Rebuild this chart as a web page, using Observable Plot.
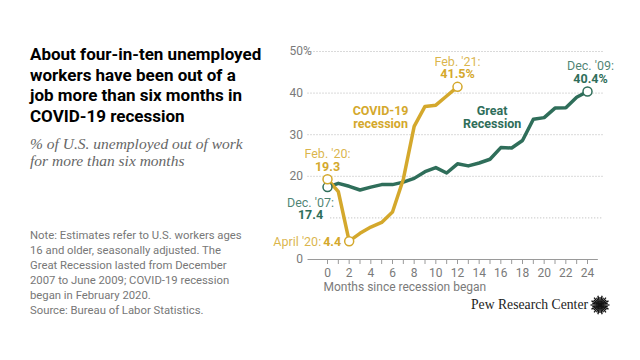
<!DOCTYPE html>
<html>
<head>
<meta charset="utf-8">
<script src="https://cdn.jsdelivr.net/npm/d3@7"></script>
<script src="https://cdn.jsdelivr.net/npm/@observablehq/plot@0.6"></script>
<style>
  html, body { margin: 0; padding: 0; background: #fff; }
  #page { position: relative; width: 640px; height: 360px; overflow: hidden; font-family: Roboto, "Liberation Sans", sans-serif; }
  #title { position: absolute; left: 30px; top: 44px; font-size: 17px; font-weight: 700; line-height: 20.5px; color: #000; }
  #subtitle { position: absolute; left: 30px; top: 136px; font-family: "Liberation Serif", serif; font-style: italic; font-size: 15.5px; line-height: 16.7px; color: #666; }
  #note { position: absolute; left: 30px; top: 229px; font-size: 11.3px; line-height: 14.9px; color: #777; }
  #chart { position: absolute; left: 260px; top: 30px; }
  #logo { position: absolute; left: 471px; top: 297px; font-family: "Liberation Serif", serif; font-size: 13.7px; color: #222; white-space: nowrap; }
  #icon { position: absolute; left: 589px; top: 294px; }
</style>
</head>
<body>
<div id="page">
  <div id="title">About four-in-ten unemployed<br>workers have been out of a<br>job more than six months in<br>COVID-19 recession</div>
  <div id="subtitle">% of U.S. unemployed out of work<br>for more than six months</div>
  <div id="note">Note: Estimates refer to U.S. workers ages<br>16 and older, seasonally adjusted. The<br>Great Recession lasted from December<br>2007 to June 2009; COVID-19 recession<br>began in February 2020.<br>Source: Bureau of Labor Statistics.</div>
  <div id="chart"></div>
  <div id="logo">Pew Research Center</div>
  <svg id="icon" width="22" height="22"></svg>
</div>
<script>
// Data
const monthsGreat = [0,1,2,3,4,5,6,7,8,9,10,11,12,13,14,15,16,17,18,19,20,21,22,23,24];
const greatRecession = [17.4,18.3,17.6,16.7,17.4,18.0,18.0,18.6,19.5,21.1,22.1,20.8,23.0,22.5,23.2,24.1,26.9,26.8,28.6,33.7,34.1,36.4,36.5,39.0,40.4];
const monthsCovid = [0,1,2,3,4,5,6,7,8,9,10,11,12];
const covidRecession = [19.3,16.3,4.4,6.3,7.8,8.9,11.4,19.3,32.0,36.8,37.1,39.3,41.5];
const yTicks = [0,20,30,40,50];
const xTicks = [0,1,2,3,4,5,6,7,8,9,10,11,12,13,14,15,16,17,18,19,20,21,22,23,24];
const xTickLabels = [0,2,4,6,8,10,12,14,16,18,20,22,24];
const gridValues = [20,30,40,50];
const seriesLabels = ["COVID-19\nrecession", "Great\nRecession"];

const GOLD = "#d4a82c";
const GREEN = "#2f6e5a";
const GRAY = "#7a7a7a";

const great = monthsGreat.map((m, i) => ({m, v: greatRecession[i]}));
const covid = monthsCovid.map((m, i) => ({m, v: covidRecession[i]}));
const gStart = great[0], gEnd = great[great.length - 1];
const cStart = covid[0], cLow = covid[2], cEnd = covid[covid.length - 1];

const FS = 12.5;

const chart = Plot.plot({
  width: 360,
  height: 275,
  marginLeft: 47.5,
  marginRight: 16.75,
  marginTop: 21,
  marginBottom: 46,
  style: {fontFamily: "Roboto, 'Liberation Sans', sans-serif", fontSize: "12px", color: GRAY, background: "transparent"},
  x: {domain: [-1.8, 25.5]},
  y: {domain: [0, 50]},
  marks: [
    Plot.ruleY(gridValues, {stroke: "#b5b5b5", strokeDasharray: "1,2"}),
    Plot.ruleY([10], {x1: 0.3, x2: 25.5, stroke: "#b5b5b5", strokeDasharray: "1,2"}),
    Plot.ruleY([0], {x1: -1.8, x2: 25, stroke: "#9a9a9a"}),
    Plot.axisY(yTicks, {tickSize: 0, tickPadding: 5, fontSize: 12, fill: GRAY, label: null}),
    Plot.text([50], {y: d => d, frameAnchor: "left", text: () => "%", textAnchor: "start", dx: -5, fontSize: 12, fill: GRAY}),
    Plot.axisX(xTicks, {tickSize: 5, stroke: "#9a9a9a", text: null, label: null}),
    Plot.axisX(xTickLabels, {tickSize: 0, tickPadding: 9, fill: GRAY, fontSize: 12, label: null}),
    Plot.text(["Months since recession began"], {x: 0, frameAnchor: "bottom", text: d => d, textAnchor: "start", dx: -4, dy: 31, fontSize: 12, fill: GRAY}),
    Plot.line(great, {x: "m", y: "v", stroke: GREEN, strokeWidth: 3.5, strokeLinejoin: "round"}),
    Plot.line(covid, {x: "m", y: "v", stroke: GOLD, strokeWidth: 3.5, strokeLinejoin: "round"}),
    Plot.dot([gStart, gEnd], {x: "m", y: "v", r: 4.5, fill: "white", stroke: GREEN, strokeWidth: 1.5}),
    Plot.dot([cStart, cLow, cEnd], {x: "m", y: "v", r: 4.5, fill: "white", stroke: GOLD, strokeWidth: 1.5}),
    // Annotations
    Plot.text([cEnd], {x: "m", y: "v", text: () => "Feb. '21:", dy: -25, fill: GOLD, fontSize: FS, fillOpacity: 0.85}),
    Plot.text([cEnd], {x: "m", y: "v", text: d => d.v + "%", dy: -12.5, fill: GOLD, fontSize: FS, fontWeight: "bold"}),
    Plot.text([gEnd], {x: "m", y: "v", text: () => "Dec. '09:", dx: 3, dy: -25, fill: GREEN, fontSize: FS, fillOpacity: 0.85}),
    Plot.text([gEnd], {x: "m", y: "v", text: d => d.v + "%", dx: 3, dy: -12, fill: GREEN, fontSize: FS, fontWeight: "bold"}),
    Plot.text([cStart], {x: "m", y: "v", text: () => "Feb. '20:", dy: -25, fill: GOLD, fontSize: FS, fillOpacity: 0.85}),
    Plot.text([cStart], {x: "m", y: "v", text: d => d.v, dy: -12.5, fill: GOLD, fontSize: FS, fontWeight: "bold"}),
    Plot.text([gStart], {x: "m", y: "v", text: () => "Dec. '07:", dx: -17, dy: 15.5, fill: GREEN, fontSize: FS, fillOpacity: 0.85}),
    Plot.text([gStart], {x: "m", y: "v", text: d => d.v, dx: -17, dy: 28, fill: GREEN, fontSize: FS, fontWeight: "bold"}),
    Plot.text([cLow], {x: "m", y: "v", text: d => d.v, textAnchor: "end", dx: -8, dy: 1, fill: GOLD, fontSize: FS, fontWeight: "bold"}),
    Plot.text([cLow], {x: "m", y: "v", text: () => "April '20:", textAnchor: "end", dx: -28, dy: 1, fill: GOLD, fontSize: FS, fillOpacity: 0.85}),
    Plot.text([{m: 4.9, v: 34.1}], {x: "m", y: "v", text: () => seriesLabels[0], lineHeight: 1.0, fill: GOLD, fontSize: FS, fontWeight: "bold"}),
    Plot.text([{m: 15.2, v: 34.1}], {x: "m", y: "v", text: () => seriesLabels[1], lineHeight: 1.0, fill: GREEN, fontSize: FS, fontWeight: "bold"})
  ]
});
document.getElementById("chart").appendChild(chart);

// Logo sunburst
const icon = d3.select("#icon");
const cx = 11, cy = 11;
const rays = d3.range(28);
icon.selectAll("line").data(rays).join("line")
  .attr("x1", i => cx + 2.5 * Math.cos(i / 28 * 2 * Math.PI))
  .attr("y1", i => cy + 2.5 * Math.sin(i / 28 * 2 * Math.PI))
  .attr("x2", i => cx + (i % 2 ? 8 : 9.5) * Math.cos(i / 28 * 2 * Math.PI))
  .attr("y2", i => cy + (i % 2 ? 8 : 9.5) * Math.sin(i / 28 * 2 * Math.PI))
  .attr("stroke", "#111").attr("stroke-width", 1.3);
icon.append("circle").attr("cx", cx).attr("cy", cy).attr("r", 2.8).attr("fill", "#111");
</script>
</body>
</html>
